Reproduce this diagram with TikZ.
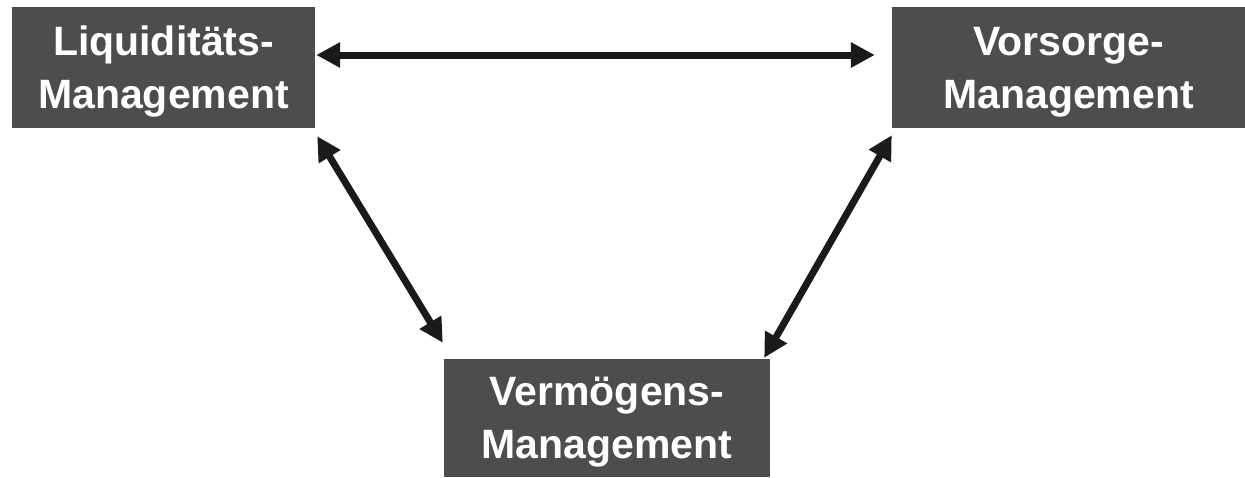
\documentclass[tikz,border=0pt]{standalone}
\usepackage{fontspec}
\setmainfont{Liberation Sans}
\usetikzlibrary{arrows.meta}
\definecolor{boxgray}{HTML}{4D4D4D}
\definecolor{arrowdark}{HTML}{1A1A1A}
\tikzset{
  mgmt/.style={fill=boxgray, text=white, inner sep=0pt, align=center,
    text depth=0pt, font=\fontsize{41}{53}\selectfont\bfseries},
  link/.style={arrowdark, line width=7pt,
    {Triangle[length=24pt,width=24pt]}-{Triangle[length=24pt,width=24pt]}}
}
\begin{document}
\begin{tikzpicture}[x=1pt,y=-1pt]
  \useasboundingbox (0,0) rectangle (1245,477);
  % the three management areas
  \node[mgmt, minimum width=303pt, minimum height=121pt] (L) at (163.5,67.5) {Liquiditäts-\\Management};
  \node[mgmt, minimum width=353pt, minimum height=121pt] (R) at (1068.5,67.5) {Vorsorge-\\Management};
  \node[mgmt, minimum width=326pt, minimum height=118pt] (B) at (607,418) {Vermögens-\\Management};
  % two-way relations between them
  \draw[link] ([shift={(1,-12.5)}]L.east) -- ([shift={(-17,-12.5)}]R.west);
  \draw[link] ([shift={(2,8)}]L.south east) -- ([shift={(-1,-16)}]B.north west);
  \draw[link] ([shift={(0,7)}]R.south west) -- ([shift={(-6,-1)}]B.north east);
\end{tikzpicture}
\end{document}
